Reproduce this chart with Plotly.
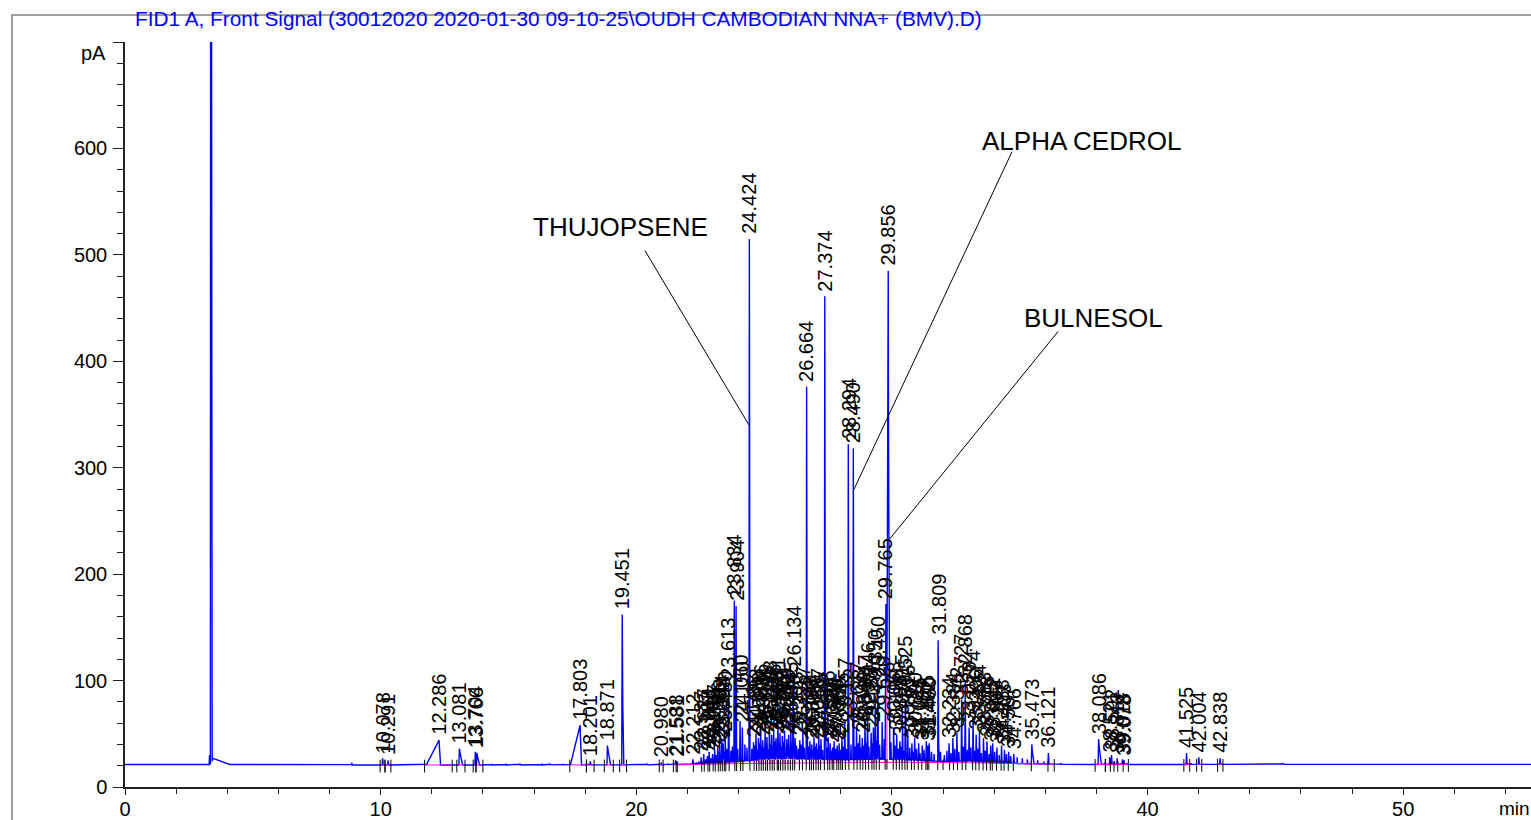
import numpy as np
import plotly.graph_objects as go

TITLE = r"FID1 A, Front Signal (30012020 2020-01-30 09-10-25\OUDH CAMBODIAN NNA+ (BMV).D)"

# ---------------- data ----------------
# labelled peaks: retention time (min) and apex signal (pA)
PEAK_RT = [10.078, 10.291, 12.286, 13.081, 13.704, 13.766, 17.803, 18.201, 18.871, 19.451,
           20.980, 21.538, 21.581,
           22.212, 22.537, 22.637, 22.783, 22.851, 22.985, 23.067, 23.186, 23.263, 23.344,
           23.398, 23.480, 23.613, 23.834, 23.904, 24.060, 24.150, 24.424, 24.586, 24.683,
           24.778, 24.866, 24.947, 25.041, 25.112, 25.208, 25.296, 25.375, 25.468, 25.541,
           25.622, 25.713, 25.801, 25.889, 25.960, 26.045, 26.134, 26.213, 26.398, 26.517,
           26.664, 26.793, 26.866, 26.951, 27.046, 27.137, 27.225, 27.374, 27.506, 27.586,
           27.680, 27.741, 27.860, 27.936, 28.045, 28.157, 28.294, 28.490, 28.617, 28.738,
           28.840, 28.947, 29.046, 29.187, 29.275, 29.350, 29.450, 29.620, 29.765, 29.856,
           30.068, 30.188, 30.309, 30.415, 30.525, 30.616, 30.782, 30.890, 31.045, 31.187,
           31.345, 31.402, 31.460, 31.809, 32.234, 32.384, 32.542, 32.727, 32.868, 33.020,
           33.174, 33.296, 33.424, 33.583, 33.718, 33.865, 33.942, 34.107, 34.288, 34.403,
           34.567, 34.766, 35.473, 36.121,
           38.086, 38.521, 38.592, 38.812, 39.018, 39.078, 41.525, 42.004, 42.838]
PEAK_PA = [27, 25, 44, 36, 33, 32, 58, 24, 39, 162,
           23, 25, 24,
           26, 28, 31, 29, 33, 31, 35, 37, 40, 44,
           41, 47, 97, 175, 170, 62, 56, 515, 42, 50,
           46, 54, 44, 52, 47, 57, 49, 54, 46, 60,
           51, 48, 53, 45, 49, 56, 108, 46, 44, 52,
           376, 43, 40, 47, 41, 50, 45, 461, 47, 41,
           37, 43, 39, 41, 46, 60, 322, 318, 56, 49,
           46, 63, 74, 51, 56, 86, 99, 61, 172, 485,
           56, 49, 43, 63, 80, 53, 41, 46, 41, 39,
           43, 39, 41, 138, 41, 46, 51, 82, 100, 56,
           66, 49, 53, 46, 43, 39, 41, 37, 39, 35,
           33, 31, 40, 32,
           45, 28, 30, 27, 26, 25, 32, 28, 27]

# non-default peak half-widths (min): rt -> (leading, trailing)
PEAK_SHAPE = {12.286: (0.50, 0.03), 17.803: (0.38, 0.03), 13.081: (0.02, 0.10),
              13.766: (0.02, 0.08), 18.871: (0.02, 0.10), 19.451: (0.02, 0.035),
              35.473: (0.02, 0.06), 38.086: (0.02, 0.08), 29.765: (0.03, 0.08),
              29.856: (0.05, 0.035)}

# solvent front (unlabelled, off scale)
SOLVENT_RT = [3.31, 3.36, 3.42]
SOLVENT_PA = [30, 1500, 27]
SOLVENT_SHAPE = [(0.02, 0.02), (0.02, 0.05), (0.02, 0.60)]

# small unlabelled peaks ("grass")
GRASS_RT = [8.87, 14.35, 14.90, 15.45, 16.30, 16.62, 17.15, 20.42, 21.25,
            22.35, 22.45, 22.72, 22.92, 23.12, 23.22, 23.43, 23.55, 23.70, 23.76, 23.97,
            24.25, 24.33, 24.52, 24.63, 24.73, 24.82, 24.90, 25.00, 25.08, 25.16, 25.25,
            25.34, 25.42, 25.50, 25.58, 25.67, 25.76, 25.84, 25.92, 26.00, 26.09, 26.27,
            26.34, 26.45, 26.58, 26.74, 26.90, 27.00, 27.09, 27.18, 27.29, 27.45, 27.63,
            27.80, 27.98, 28.10, 28.22, 28.40, 28.56, 28.68, 28.79, 28.89, 29.00, 29.10,
            29.23, 29.31, 29.40, 29.52, 29.70, 29.96, 30.12, 30.25, 30.36, 30.47, 30.70,
            30.84, 30.96, 31.10, 31.26, 31.55, 31.65, 31.90, 32.05, 32.15, 32.31, 32.46,
            32.62, 32.80, 32.95, 33.09, 33.24, 33.36, 33.50, 33.65, 33.80, 34.02, 34.20,
            34.48, 34.65, 34.90, 35.10, 35.30, 35.70, 35.95,
            36.60, 37.20, 38.35, 38.70, 39.20, 40.30, 41.70, 44.10, 45.30, 46.50, 48.40, 49.70]
GRASS_PA = [22.8, 21.6, 21.9, 21.5, 21.8, 21.6, 21.7, 21.6, 22.0,
            23, 24, 26, 27, 30, 29, 33, 36, 34, 38, 36,
            40, 37, 36, 39, 35, 41, 38, 37, 42, 36, 40,
            38, 43, 37, 41, 38, 42, 36, 40, 37, 41, 39,
            36, 40, 37, 38, 35, 38, 36, 39, 35, 37, 34,
            36, 35, 38, 36, 40, 38, 41, 37, 39, 42, 38,
            41, 37, 44, 40, 45, 42, 39, 36, 38, 34, 37,
            33, 36, 32, 35, 33, 31, 33, 30, 34, 32, 36,
            33, 38, 35, 37, 34, 36, 32, 34, 31, 33, 30,
            31, 29, 28, 27, 26, 25, 24,
            22.5, 21.8, 23.5, 24.0, 22.5, 21.9, 22.4, 21.7, 22.0, 21.8, 21.9, 21.7]

# detector signal floor under the peaks (pA)
FLOOR_T = [0, 5.05, 5.15, 21.0, 22.0, 23.0, 24.0, 25.0, 26.0, 27.0, 28.0, 29.0, 30.0,
           31.0, 32.0, 33.0, 34.0, 35.0, 36.0, 37.0, 40.0, 55.0]
FLOOR_PA = [21.2, 21.2, 20.6, 20.8, 21.5, 22.5, 24.0, 26.0, 26.5, 26.0, 25.5, 26.0, 26.0,
            25.0, 24.0, 24.5, 23.0, 22.0, 21.6, 21.2, 21.2, 21.3]

# integration baseline (magenta) and integration windows
INT_BASE_T = [0, 5.1, 21.6, 24.0, 28.0, 30.0, 33.0, 36.3, 55.0]
INT_BASE_PA = [21.2, 20.6, 20.8, 22.0, 23.0, 23.2, 22.8, 21.3, 21.3]
INT_GROUPS = [(9.98, 10.17), (10.17, 10.40), (11.72, 12.80), (12.98, 13.30), (13.62, 13.73),
              (13.73, 14.00), (17.40, 18.05), (18.05, 18.35), (18.75, 19.10), (19.35, 19.62),
              (20.90, 21.05), (21.45, 36.35), (37.95, 38.35), (38.35, 39.25), (41.42, 41.65),
              (41.92, 42.12), (42.74, 42.95)]

# named compounds
NAMES = ["THUJOPSENE", "ALPHA CEDROL", "BULNESOL"]
NAME_PEAK = [24.424, 28.490, 29.856]

# ---------------- build signal ----------------
DEF_SHAPE = (0.016, 0.022)
all_rt = list(PEAK_RT) + SOLVENT_RT + GRASS_RT
all_pa = list(PEAK_PA) + SOLVENT_PA + GRASS_PA
all_shape = [PEAK_SHAPE.get(r, DEF_SHAPE) for r in PEAK_RT] + SOLVENT_SHAPE + \
            [(0.012, 0.015)] * len(GRASS_RT)

t = np.arange(0, 55.0001, 0.004)
extra = []
for r, (lw, rw) in zip(all_rt, all_shape):
    extra += [r, r - lw, r + rw]
t = np.unique(np.concatenate([t, np.array(extra)]))
t = t[(t >= 0) & (t <= 55)]

floor = np.interp(t, FLOOR_T, FLOOR_PA)
sig = floor.copy()
for r, a, (lw, rw) in zip(all_rt, all_pa, all_shape):
    amp = max(a - np.interp(r, FLOOR_T, FLOOR_PA), 0)
    left = (t >= r - lw) & (t <= r)
    right = (t > r) & (t <= r + rw)
    sig[left] += amp * (1 - (r - t[left]) / lw)
    sig[right] += amp * (1 - (t[right] - r) / rw)


def ibase(x):
    return float(np.interp(x, INT_BASE_T, INT_BASE_PA))


def sig_at(x):
    return float(np.interp(x, t, sig))


# integration baselines, drop lines and tick marks
mx, my, kx, ky = [], [], [], []
for (s, e) in INT_GROUPS:
    xs = [s] + [v for v in INT_BASE_T if s < v < e] + [e]
    mx += xs + [None]
    my += [ibase(v) for v in xs] + [None]
    for v in (s, e):
        kx += [v, v, None]
        ky += [ibase(v) - 7, ibase(v) + 5, None]
    inside = sorted(r for r in PEAK_RT if s < r < e)
    for a, b in zip(inside[:-1], inside[1:]):
        m = (t > a) & (t < b)
        if not m.any():
            continue
        i = int(np.argmin(sig[m]))
        xv, yv = float(t[m][i]), float(sig[m][i])
        bv = ibase(xv)
        mx += [xv, xv, None]
        my += [bv, yv, None]
        kx += [xv, xv, None]
        ky += [bv - 7, bv + 3, None]

FONT = "Liberation Sans, Arial, sans-serif"
fig = go.Figure()
fig.add_trace(go.Scatter(x=t, y=sig, mode="lines", line=dict(color="#0000ff", width=1.4),
                         hoverinfo="skip"))
fig.add_trace(go.Scatter(x=mx, y=my, mode="lines", line=dict(color="#ff00ff", width=1),
                         hoverinfo="skip"))
fig.add_trace(go.Scatter(x=kx, y=ky, mode="lines", line=dict(color="#000000", width=1),
                         hoverinfo="skip"))

ann = []
for r in PEAK_RT:
    ann.append(dict(x=r, y=sig_at(r), text=f"{r:.3f}", textangle=-90, showarrow=False,
                    xanchor="center", yanchor="bottom", yshift=3,
                    font=dict(family=FONT, size=20, color="black")))

# named compound labels with leader lines
NAME_TEXT_POS = [(19.37, 526), (37.40, 607), (37.87, 441)]
NAME_LINE_START = [(20.34, 504), (34.70, 597), (36.50, 428)]
NAME_TIP_FRAC = [0.66, 0.88, 0.48]
NAME_TIP_DX = [-0.01, 0.03, 0.05]
shapes = []
for name, pk, (tx, ty), (sx, sy), fr, dx in zip(NAMES, NAME_PEAK, NAME_TEXT_POS,
                                                NAME_LINE_START, NAME_TIP_FRAC, NAME_TIP_DX):
    ann.append(dict(x=tx, y=ty, text=name, showarrow=False, xanchor="center", yanchor="middle",
                    font=dict(family=FONT, size=26, color="black")))
    shapes.append(dict(type="line", xref="x", yref="y", x0=sx, y0=sy, x1=pk + dx,
                       y1=sig_at(pk) * fr, line=dict(color="black", width=1)))

ann.append(dict(xref="paper", yref="paper", x=0.0057, y=1.0322, text=TITLE, showarrow=False,
                xanchor="left", yanchor="middle", font=dict(family=FONT, size=20.8, color="#0000ff")))
ann.append(dict(xref="paper", yref="y", x=-0.0121, y=690, text="pA", showarrow=False,
                xanchor="right", yanchor="middle", font=dict(family=FONT, size=20, color="black")))
ann.append(dict(xref="paper", yref="paper", x=0.9755, y=-0.029, text="min", showarrow=False,
                xanchor="left", yanchor="middle", font=dict(family=FONT, size=19, color="black")))

shapes.append(dict(type="rect", xref="paper", yref="paper", x0=-0.0804, x1=1.05, y0=-0.2,
                   y1=1.0362, line=dict(color="#808080", width=1.5), layer="below"))

Y_TICKS = [0, 100, 200, 300, 400, 500, 600, 700]
Y_TEXT = ["0", "100", "200", "300", "400", "500", "600", ""]
X_TICKS = [0, 10, 20, 30, 40, 50]

fig.update_layout(
    width=1531, height=820, margin=dict(l=125, r=0, t=42, b=33),
    paper_bgcolor="white", plot_bgcolor="white", showlegend=False,
    annotations=ann, shapes=shapes,
    xaxis=dict(range=[0, 55], tickvals=X_TICKS, ticks="outside", ticklen=6, tickwidth=1.3,
               tickcolor="#222", showline=True, linecolor="#222", linewidth=1.5,
               ticklabelstandoff=-3,
               showgrid=False, zeroline=False, tickfont=dict(family=FONT, size=20, color="black"),
               minor=dict(dtick=2, tick0=0, ticks="outside", ticklen=5, tickcolor="#222",
                          showgrid=False)),
    yaxis=dict(range=[0, 700], tickvals=Y_TICKS, ticktext=Y_TEXT, ticks="outside", ticklen=10,
               tickwidth=1.3, tickcolor="#222", showline=True, linecolor="#222", linewidth=1.5,
               ticklabelstandoff=2,
               showgrid=False, zeroline=False, tickfont=dict(family=FONT, size=20, color="black"),
               minor=dict(dtick=20, tick0=0, ticks="outside", ticklen=6, tickcolor="#222",
                          showgrid=False)),
)

# remove the default page margin so the figure fills the window exactly
fig.write_html("out.html", config={"displayModeBar": False},
               post_script="document.body.style.margin='0';document.body.style.overflow='hidden';")
